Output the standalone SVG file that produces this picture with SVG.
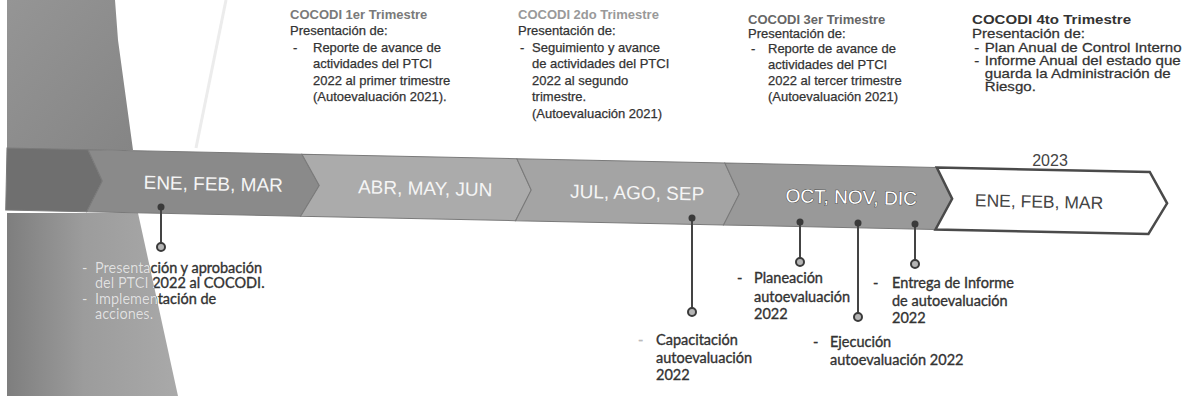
<svg xmlns="http://www.w3.org/2000/svg" width="1196" height="402" viewBox="0 0 1196 402">
<defs>
<linearGradient id="gUp" x1="0" y1="0" x2="1" y2="1">
<stop offset="0" stop-color="#959595"/><stop offset="1" stop-color="#858585"/>
</linearGradient>
<linearGradient id="gLow" x1="0" y1="0" x2="1" y2="0">
<stop offset="0" stop-color="#7e7e7e"/><stop offset="0.45" stop-color="#9c9c9c"/><stop offset="1" stop-color="#a9a9a9"/>
</linearGradient>
<clipPath id="clipLow"><polygon points="7,213 138,213 178,396 7,396"/></clipPath>
<style>
.t{font-family:"Liberation Sans",Arial,sans-serif;font-size:13px;fill:#333;stroke:#333;stroke-width:0.25}
.h{font-weight:bold;stroke-width:0}
.seg{stroke:#7a7a7a;stroke-width:1}
.mt{font-family:"Liberation Sans",Arial,sans-serif;font-size:19px;fill:#f5f5f5;text-anchor:middle}
.b{font-family:Lato,"Open Sans",sans-serif;font-size:14.5px;fill:#333;stroke:#333;stroke-width:0.35}
.lw{fill:#e2e2e2;stroke:#e2e2e2}
.ln{stroke:#444;stroke-width:2;fill:none}
.dot{fill:#3a3a3a}
.ring{fill:#b5b5b5;stroke:#3a3a3a;stroke-width:2}
</style>
</defs>
<rect width="1196" height="402" fill="#ffffff"/>
<g id="background">
<polygon points="7,0 115,0 118,40 133,150 7,150" fill="url(#gUp)"/>
<line x1="226" y1="0" x2="196" y2="148" stroke="#ececec" stroke-width="3"/>
<polygon points="7,213 138,213 178,396 7,396" fill="url(#gLow)"/>
</g>
<g id="timeline" transform="rotate(1.2 7 148)">
<g id="seg0"><polygon class="seg" points="7,148 88,148 103,179 88,210 7,210" fill="#6f6f6f"/></g>
<g id="seg1"><polygon class="seg" points="88,148 302,148 320,179 302,210 88,210 103,179" fill="#8a8a8a"/><text class="mt" x="214" y="186">ENE, FEB, MAR</text></g>
<g id="seg2"><polygon class="seg" points="302,148 517,148 532,179 517,210 302,210 320,179" fill="#ababab"/><text class="mt" x="426" y="186">ABR, MAY, JUN</text></g>
<g id="seg3"><polygon class="seg" points="517,148 725,148 740,179 725,210 517,210 532,179" fill="#a4a4a4"/><text class="mt" x="638" y="186">JUL, AGO, SEP</text></g>
<g id="seg4"><polygon class="seg" points="725,148 937,148 953,179 937,210 725,210 740,179" fill="#999999"/><text class="mt" x="852" y="186" style="fill:#ffffff;stroke:#444;stroke-width:0.9;paint-order:stroke">OCT, NOV, DIC</text></g>
<g id="seg5"><polygon points="937,148 1150,148 1168,179 1150,210 937,210 953,179" fill="#ffffff" stroke="#4a4a4a" stroke-width="2.5" stroke-linejoin="miter"/><text class="mt" x="1040" y="186" style="fill:#444;font-size:17.5px">ENE, FEB, MAR</text></g>
</g>
<text x="1050" y="166" font-family="Liberation Sans, Arial, sans-serif" font-size="16" fill="#444" text-anchor="middle">2023</text>
<g id="q1">
<text class="t h" x="290" y="19" style="fill:#7a7a7a">COCODI 1er Trimestre</text>
<text class="t" x="290" y="35">Presentación de:</text>
<text class="t" x="293" y="52">-</text>
<text class="t" x="313" y="52">Reporte de avance de</text>
<text class="t" x="313" y="68">actividades del PTCI</text>
<text class="t" x="313" y="85">2022 al primer trimestre</text>
<text class="t" x="313" y="101">(Autoevaluación 2021).</text>
</g>
<g id="q2">
<text class="t h" x="518" y="19" style="fill:#999">COCODI 2do Trimestre</text>
<text class="t" x="518" y="35">Presentación de:</text>
<text class="t" x="520" y="52">-</text>
<text class="t" x="532" y="52">Seguimiento y avance</text>
<text class="t" x="532" y="68">de actividades del PTCI</text>
<text class="t" x="532" y="85">2022 al segundo</text>
<text class="t" x="532" y="101">trimestre.</text>
<text class="t" x="532" y="118">(Autoevaluación 2021)</text>
</g>
<g id="q3">
<text class="t h" x="748" y="24" style="fill:#666">COCODI 3er Trimestre</text>
<text class="t" x="748" y="38">Presentación de:</text>
<text class="t" x="751" y="53">-</text>
<text class="t" x="768" y="53">Reporte de avance de</text>
<text class="t" x="768" y="69">actividades del PTCI</text>
<text class="t" x="768" y="85">2022 al tercer trimestre</text>
<text class="t" x="768" y="101">(Autoevaluación 2021)</text>
</g>
<g id="q4" transform="translate(972 0) scale(1.16 1)">
<text class="t h" x="0" y="24">COCODI 4to Trimestre</text>
<text class="t" x="0" y="38">Presentación de:</text>
<text class="t" x="2" y="52">-</text>
<text class="t" x="11" y="52">Plan Anual de Control Interno</text>
<text class="t" x="2" y="65">-</text>
<text class="t" x="11" y="65">Informe Anual del estado que</text>
<text class="t" x="11" y="78">guarda la Administración de</text>
<text class="t" x="11" y="91">Riesgo.</text>
</g>
<g id="connectors">
<line class="ln" x1="161" y1="207" x2="161" y2="247"/>
<line class="ln" x1="692" y1="218" x2="692" y2="312"/>
<line class="ln" x1="800" y1="222" x2="800" y2="262"/>
<line class="ln" x1="858" y1="223" x2="858" y2="317"/>
<line class="ln" x1="915" y1="224" x2="915" y2="264"/>
<circle class="dot" cx="161" cy="207" r="3.5"/><circle class="ring" cx="161" cy="247" r="4"/>
<circle class="dot" cx="692" cy="218" r="3.5"/><circle class="ring" cx="692" cy="312" r="4"/>
<circle class="dot" cx="800" cy="222" r="3.5"/><circle class="ring" cx="800" cy="262" r="4"/>
<circle class="dot" cx="858" cy="223" r="3.5"/><circle class="ring" cx="858" cy="317" r="4"/>
<circle class="dot" cx="915" cy="224" r="3.5"/><circle class="ring" cx="915" cy="264" r="4"/>
</g>
<g id="ev1">
<text class="b" x="82" y="273">-</text>
<text class="b" x="95" y="273">Presentación y aprobación</text>
<text class="b" x="95" y="288">del PTCI 2022 al COCODI.</text>
<text class="b" x="82" y="304">-</text>
<text class="b" x="95" y="304">Implementación de</text>
<text class="b" x="95" y="319">acciones.</text>
<g clip-path="url(#clipLow)">
<text class="b lw" x="82" y="273">-</text>
<text class="b lw" x="95" y="273">Presentación y aprobación</text>
<text class="b lw" x="95" y="288">del PTCI 2022 al COCODI.</text>
<text class="b lw" x="82" y="304">-</text>
<text class="b lw" x="95" y="304">Implementación de</text>
<text class="b lw" x="95" y="319">acciones.</text>
</g>
</g>
<g id="ev2">
<text class="b" x="638" y="345" style="fill:#bbb;stroke:#bbb">-</text>
<text class="b" x="656" y="345">Capacitación</text>
<text class="b" x="656" y="363">autoevaluación</text>
<text class="b" x="656" y="380">2022</text>
</g>
<g id="ev3">
<text class="b" x="737" y="283">-</text>
<text class="b" x="754" y="283">Planeación</text>
<text class="b" x="754" y="302">autoevaluación</text>
<text class="b" x="754" y="319">2022</text>
</g>
<g id="ev4">
<text class="b" x="813" y="347">-</text>
<text class="b" x="830" y="347">Ejecución</text>
<text class="b" x="830" y="365">autoevaluación 2022</text>
</g>
<g id="ev5">
<text class="b" x="873" y="288">-</text>
<text class="b" x="892" y="288">Entrega de Informe</text>
<text class="b" x="892" y="306">de autoevaluación</text>
<text class="b" x="892" y="323">2022</text>
</g>
</svg>
